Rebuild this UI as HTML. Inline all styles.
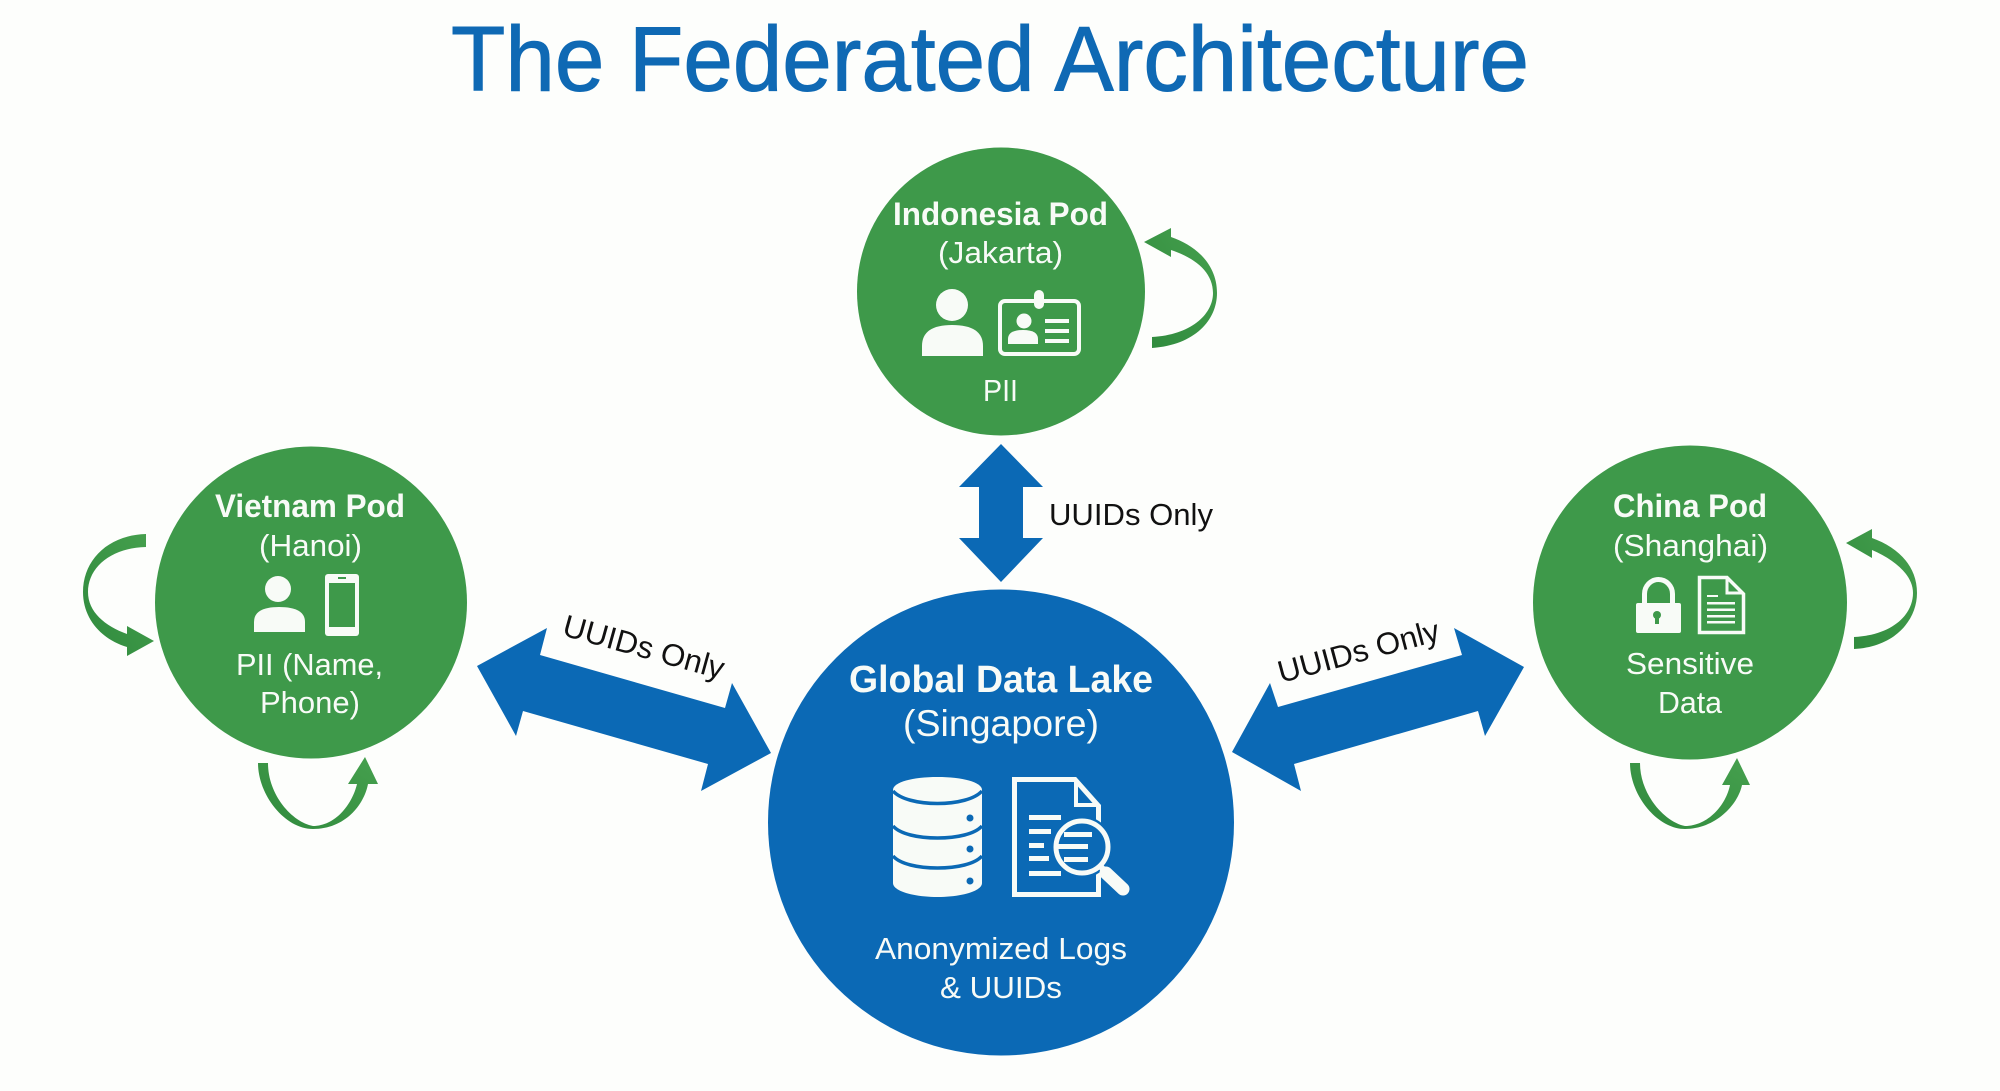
<!DOCTYPE html>
<html lang="en"><head><meta charset="utf-8"><title>The Federated Architecture</title>
<style>
html,body{margin:0;padding:0;background:#fdfefc}
svg{display:block}
text{font-family:"Liberation Sans",sans-serif}
.w{fill:#f8fbf7}
.b{font-weight:700}
.k{fill:#111;font-size:31px}
</style></head><body>
<svg width="2000" height="1091" viewBox="0 0 2000 1091" xmlns="http://www.w3.org/2000/svg">
<defs>
<linearGradient id="g1" x1="0" y1="1" x2="1" y2="0"><stop offset="0" stop-color="#2f8a3d"/><stop offset="1" stop-color="#46a04e"/></linearGradient>
</defs>
<rect width="2000" height="1091" fill="#fdfefc"/>
<text x="451" y="90.500" font-size="92" fill="#0f69b4" stroke="#0f69b4" stroke-width="1" textLength="1078" lengthAdjust="spacingAndGlyphs">The Federated Architecture</text>

<!-- circles -->
<circle cx="1001" cy="291.500" r="144" fill="#3e994a"/>
<circle cx="311" cy="602.500" r="156" fill="#3e994a"/>
<circle cx="1690" cy="602.500" r="157" fill="#3e994a"/>
<circle cx="1001" cy="822.500" r="233" fill="#0b69b5"/>

<!-- block arrows -->
<g fill="#0b69b5">
<polygon points="1001,444 1043,487 1023,487 1023,538 1043,538 1001,582 959,538 979,538 979,487 959,487"/>
<polygon points="477,666 547,628 540,655 725,708 732,683 771,753 701,791 708,764 523,711 516,736"/>
<polygon points="1232,752 1270,683 1278,707 1462,655 1454,628 1524,667 1485,736 1478,711 1294,764 1301,791"/>
</g>
<text class="k" x="1049" y="525" textLength="164" lengthAdjust="spacingAndGlyphs">UUIDs Only</text>
<text class="k" transform="translate(561,635) rotate(15.500)" textLength="166" lengthAdjust="spacingAndGlyphs">UUIDs Only</text>
<text class="k" transform="translate(1281,683) rotate(-15)" textLength="166" lengthAdjust="spacingAndGlyphs">UUIDs Only</text>

<!-- curved arrows -->
<g fill="url(#g1)">
<path d="M1152 348 C1195 345 1217 320 1217 293 C1217 265 1197 246 1171 237 L1171 228 L1144 242 L1171 257 L1171 250 C1195 258 1213 272 1213 293 C1213 315 1190 335 1152 337 Z"/>
<path d="M146 534 C108 535 83 560 83 592 C83 620 103 640 127 647 L127 656 L154 641 L127 626 L127 634 C105 626 88 612 88 592 C88 568 110 548 146 547 Z"/>
<path d="M258 763 C258 795 285 829 313 829 C345 829 364 805 368 784 L378 784 L365 757 L348 784 L357 784 C352 805 335 826 313 826 C292 822 268 795 268 763 Z"/>
<path d="M1854 649 C1895 647 1917 620 1917 593 C1917 565 1897 547 1872 538 L1872 529 L1846 543 L1872 558 L1872 550 C1895 560 1913 575 1913 593 C1913 615 1892 635 1854 637 Z"/>
<path d="M1630 763 C1630 795 1657 829 1685 829 C1715 829 1738 805 1742 785 L1750 785 L1737 758 L1722 785 L1730 785 C1726 805 1708 826 1685 826 C1665 822 1640 795 1640 763 Z"/>
</g>

<!-- Indonesia -->
<g class="w">
<text class="w b" x="893" y="225" font-size="32" textLength="215" lengthAdjust="spacingAndGlyphs">Indonesia Pod</text>
<text class="w" x="938" y="263" font-size="31" textLength="125" lengthAdjust="spacingAndGlyphs">(Jakarta)</text>
<text class="w" x="983" y="401" font-size="31" textLength="35" lengthAdjust="spacingAndGlyphs">PII</text>
<circle cx="952" cy="305" r="16"/>
<path d="M922 356V346Q922 325 952 325Q983 325 983 346V356Z"/>
</g>
<rect x="1000" y="301" width="79" height="53" rx="5" fill="none" stroke="#f8fbf7" stroke-width="4"/>
<rect x="1034" y="290" width="10" height="19" rx="5" fill="#f8fbf7"/>
<g fill="#f8fbf7">
<circle cx="1024" cy="321" r="7.500"/>
<path d="M1008 344V339Q1008 330 1023 330Q1038 330 1038 339V344Z"/>
<rect x="1045" y="319" width="24" height="4"/>
<rect x="1045" y="329" width="24" height="4"/>
<rect x="1045" y="339" width="24" height="4"/>
</g>

<!-- Vietnam -->
<g class="w">
<text class="w b" x="215" y="517" font-size="32" textLength="190" lengthAdjust="spacingAndGlyphs">Vietnam Pod</text>
<text class="w" x="259" y="556" font-size="31" textLength="103" lengthAdjust="spacingAndGlyphs">(Hanoi)</text>
<text class="w" x="236" y="675" font-size="31" textLength="147" lengthAdjust="spacingAndGlyphs">PII (Name,</text>
<text class="w" x="260" y="713" font-size="31" textLength="100" lengthAdjust="spacingAndGlyphs">Phone)</text>
<circle cx="278" cy="589" r="13"/>
<path d="M254 632V622Q254 607 279 607Q305 607 305 622V632Z"/>
<rect x="325" y="574" width="34" height="62" rx="3"/>
</g>
<rect x="329" y="583" width="26" height="44" fill="#3e994a"/>
<rect x="338" y="577" width="8" height="2" fill="#3e994a"/>

<!-- China -->
<g class="w">
<text class="w b" x="1613" y="517" font-size="32" textLength="154" lengthAdjust="spacingAndGlyphs">China Pod</text>
<text class="w" x="1613" y="556" font-size="31" textLength="155" lengthAdjust="spacingAndGlyphs">(Shanghai)</text>
<text class="w" x="1626" y="674" font-size="31" textLength="128" lengthAdjust="spacingAndGlyphs">Sensitive</text>
<text class="w" x="1658" y="713" font-size="31" textLength="64" lengthAdjust="spacingAndGlyphs">Data</text>
<rect x="1636" y="603" width="45" height="30" rx="2"/>
</g>
<path d="M1644.500 604V594A14 14.500 0 0 1 1672.500 594V604" fill="none" stroke="#f8fbf7" stroke-width="5"/>
<circle cx="1657" cy="615" r="4" fill="#3e994a"/>
<rect x="1655" y="616" width="4" height="8" fill="#3e994a"/>
<path d="M1699.500 577.500H1727L1743.500 594V632.500H1699.500Z" fill="none" stroke="#f8fbf7" stroke-width="3.500"/>
<path d="M1727 578V593H1743" fill="none" stroke="#f8fbf7" stroke-width="3"/>
<g fill="#f8fbf7">
<rect x="1707" y="595" width="11" height="2"/>
<rect x="1707" y="602" width="28" height="2.500"/>
<rect x="1707" y="608.500" width="28" height="2.500"/>
<rect x="1707" y="615" width="28" height="2.500"/>
<rect x="1707" y="621" width="28" height="2.500"/>
</g>

<!-- Global -->
<g class="w">
<text class="w b" x="849" y="692" font-size="38" textLength="304" lengthAdjust="spacingAndGlyphs">Global Data Lake</text>
<text class="w" x="903" y="736" font-size="37" textLength="196" lengthAdjust="spacingAndGlyphs">(Singapore)</text>
<text class="w" x="875" y="959" font-size="31" textLength="252" lengthAdjust="spacingAndGlyphs">Anonymized Logs</text>
<text class="w" x="940" y="998" font-size="31" textLength="122" lengthAdjust="spacingAndGlyphs">&amp; UUIDs</text>
<path d="M893 790C893 782 913 777 937.500 777C962 777 982 782 982 790V883C982 891 962 897 937.500 897C913 897 893 891 893 883Z"/>
</g>
<g fill="none" stroke="#0b69b5" stroke-width="3.500">
<path d="M893 791C900 799 918 803.500 937.500 803.500C957 803.500 975 799 982 791"/>
<path d="M893 826C900 834 918 838 937.500 838C957 838 975 834 982 826"/>
<path d="M893 856C900 864 918 868 937.500 868C957 868 975 864 982 856"/>
</g>
<g fill="#0b69b5"><circle cx="970" cy="818" r="3.500"/><circle cx="970" cy="849" r="3.500"/><circle cx="970" cy="881" r="3.500"/></g>
<path d="M1014.500 779.500H1075L1098.500 806V894.500H1014.500Z" fill="none" stroke="#f8fbf7" stroke-width="5"/>
<path d="M1076 780V805H1098" fill="none" stroke="#f8fbf7" stroke-width="4"/>
<g fill="#f8fbf7">
<rect x="1029" y="815" width="32" height="5"/>
<rect x="1029" y="829" width="22" height="5"/>
<rect x="1029" y="843" width="15" height="5"/>
<rect x="1029" y="856" width="20" height="5"/>
<rect x="1029" y="871" width="32" height="5"/>
</g>
<circle cx="1082" cy="847" r="31" fill="#0b69b5"/>
<circle cx="1082" cy="847" r="26" fill="#0b69b5" stroke="#f8fbf7" stroke-width="5"/>
<g fill="#f8fbf7">
<rect x="1064" y="832" width="28" height="5"/>
<rect x="1058" y="844" width="30" height="5"/>
<rect x="1064" y="857" width="24" height="5"/>
</g>
<path d="M1100 866L1104 870" stroke="#f8fbf7" stroke-width="6"/>
<path d="M1106 873L1123 889" stroke="#f8fbf7" stroke-width="13" stroke-linecap="round"/>
</svg>
</body></html>
